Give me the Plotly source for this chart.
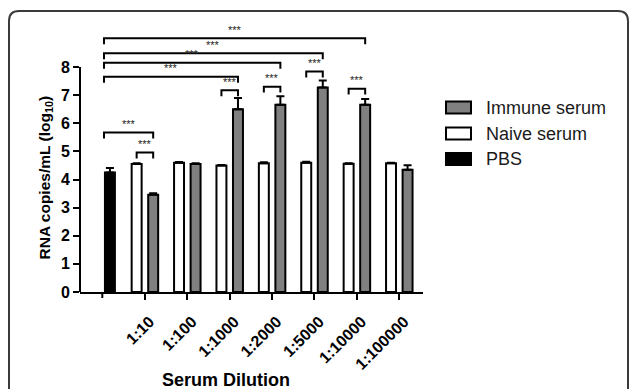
import plotly.graph_objects as go

# ---------------- data ----------------
dilutions = ["1:10", "1:100", "1:1000", "1:2000", "1:5000", "1:10000", "1:100000"]
series_names = ["Immune serum", "Naive serum", "PBS"]

pbs_value = [4.25]
pbs_err = [0.16]
naive_values = [4.55, 4.60, 4.50, 4.58, 4.60, 4.56, 4.58]
naive_err = [0.03, 0.02, 0.02, 0.03, 0.03, 0.02, 0.02]
immune_values = [3.46, 4.55, 6.50, 6.66, 7.27, 6.66, 4.35]
immune_err = [0.05, 0.03, 0.40, 0.30, 0.25, 0.20, 0.16]

# significance comparisons: (group index of immune bar, bracket height, label)
pbs_vs_immune = [(1, 5.67, "***"), (3, 7.65, "***"), (4, 8.15, "***"), (5, 8.49, "***"), (6, 9.02, "***")]
naive_vs_immune = [(1, 4.96, "***"), (3, 7.17, "***"), (4, 7.30, "***"), (5, 7.84, "***"), (6, 7.23, "***")]

# ---------------- layout geometry ----------------
L, T, W, H = 80, 22, 343, 270
FIG_W, FIG_H = 629, 389
def px(x):
    return (x - L) / W
def py(y):
    return (T + H - y) / H

groups = list(range(1, len(dilutions) + 1))
naive_x = [g - 0.19 for g in groups]
immune_x = [g + 0.20 for g in groups]
pbs_x = [0.18]
bar_w = 0.235
leg = 0.21
pbs_left = 0.04

fig = go.Figure()

err_style = dict(type="data", symmetric=False, color="black", thickness=2, width=4)

fig.add_trace(go.Bar(x=pbs_x, y=pbs_value, width=bar_w, name=series_names[2],
                     marker=dict(color="black", line=dict(color="black", width=2)),
                     error_y=dict(array=pbs_err, arrayminus=[0] * len(pbs_err), **err_style)))
fig.add_trace(go.Bar(x=naive_x, y=naive_values, width=bar_w, name=series_names[1],
                     marker=dict(color="white", line=dict(color="black", width=2)),
                     error_y=dict(array=naive_err, arrayminus=[0] * len(naive_err), **err_style)))
fig.add_trace(go.Bar(x=immune_x, y=immune_values, width=bar_w, name=series_names[0],
                     marker=dict(color="#808080", line=dict(color="black", width=2)),
                     error_y=dict(array=immune_err, arrayminus=[0] * len(immune_err), **err_style)))

annotations = []

def bracket(x0, x1, y):
    fig.add_trace(go.Scatter(x=[x0, x0, x1, x1], y=[y - leg, y, y, y - leg], mode="lines",
                             line=dict(color="black", width=2), showlegend=False, hoverinfo="skip"))

for g, y, lab in pbs_vs_immune:
    x1 = g + 0.20
    bracket(pbs_left, x1, y)
    annotations.append(dict(x=(pbs_left + x1) / 2, y=y + 0.02, xref="x", yref="y", text=lab,
                            showarrow=False, yanchor="bottom", font=dict(size=11, color="#222")))
for g, y, lab in naive_vs_immune:
    x0, x1 = g - 0.19, g + 0.20
    bracket(x0, x1, y)
    annotations.append(dict(x=(x0 + x1) / 2, y=y + 0.02, xref="x", yref="y", text=lab,
                            showarrow=False, yanchor="bottom", font=dict(size=11, color="#222")))

# manual legend
legend_fill = {"Immune serum": "#808080", "Naive serum": "white", "PBS": "black"}
legend_y = [107.5, 133.5, 159.0]
shapes = []
for name, yc in zip(series_names, legend_y):
    shapes.append(dict(type="rect", xref="paper", yref="paper",
                       x0=px(446), x1=px(471), y0=py(yc + 6), y1=py(yc - 6),
                       fillcolor=legend_fill[name], line=dict(color="black", width=2)))
    annotations.append(dict(x=px(484), y=py(yc), xref="paper", yref="paper", text=name,
                            showarrow=False, xanchor="left", yanchor="middle",
                            font=dict(size=18, color="#1a1a1a", family="Liberation Sans, Arial")))

# y axis line (only 0..8)
shapes.append(dict(type="line", xref="paper", yref="y", x0=0, x1=0, y0=0, y1=8,
                   line=dict(color="black", width=2)))
# tick mark for the unlabeled PBS column
shapes.append(dict(type="line", xref="x", yref="paper", x0=0, x1=0, y0=0, y1=py(T + H + 6),
                   line=dict(color="black", width=2)))

# outer rounded frame
frame = (f"M {px(9)},{py(420)} L {px(9)},{py(21)} Q {px(9)},{py(11)} {px(19)},{py(11)} "
         f"L {px(618)},{py(11)} Q {px(628)},{py(11)} {px(628)},{py(21)} L {px(628)},{py(420)}")
shapes.append(dict(type="path", xref="paper", yref="paper", path=frame,
                   line=dict(color="#3a3a3a", width=2)))

# axis titles
annotations.append(dict(x=px(45), y=py(177.5), xref="paper", yref="paper",
                        text="<b>RNA copies/mL (log<sub>10</sub>)</b>", textangle=-90,
                        showarrow=False, xanchor="center", yanchor="middle",
                        font=dict(size=15.5, color="black")))
annotations.append(dict(x=px(226), y=py(380), xref="paper", yref="paper",
                        text="<b>Serum Dilution</b>", showarrow=False,
                        xanchor="center", yanchor="middle",
                        font=dict(size=18, color="black")))

fig.update_layout(
    width=FIG_W, height=FIG_H,
    margin=dict(l=L, r=FIG_W - L - W, t=T, b=FIG_H - T - H, pad=0),
    paper_bgcolor="white", plot_bgcolor="white",
    barmode="overlay", showlegend=False,
    font=dict(family="Liberation Sans, Arial, sans-serif", color="black"),
    shapes=shapes, annotations=annotations,
    xaxis=dict(range=[-0.526, 7.564], tickmode="array", tickvals=groups,
               ticktext=dilutions, tickangle=-45, ticks="outside", ticklen=6, tickwidth=2,
               tickcolor="black", showline=True, linecolor="black", linewidth=2,
               showgrid=False, zeroline=False, automargin=False,
               ticklabelstandoff=6, ticklabelshift=5,
               tickfont=dict(size=16, weight="bold", color="black")),
    yaxis=dict(range=[0, 9.6], tickmode="array", tickvals=list(range(9)),
               ticks="outside", ticklen=6, tickwidth=2, tickcolor="black",
               showline=False, showgrid=False, zeroline=False, automargin=False,
               tickfont=dict(size=16, weight="bold", color="black")),
)

fig.write_html("out.html", config={"displayModeBar": False},
               post_script="document.body.style.margin='0';document.body.style.overflow='hidden';")
